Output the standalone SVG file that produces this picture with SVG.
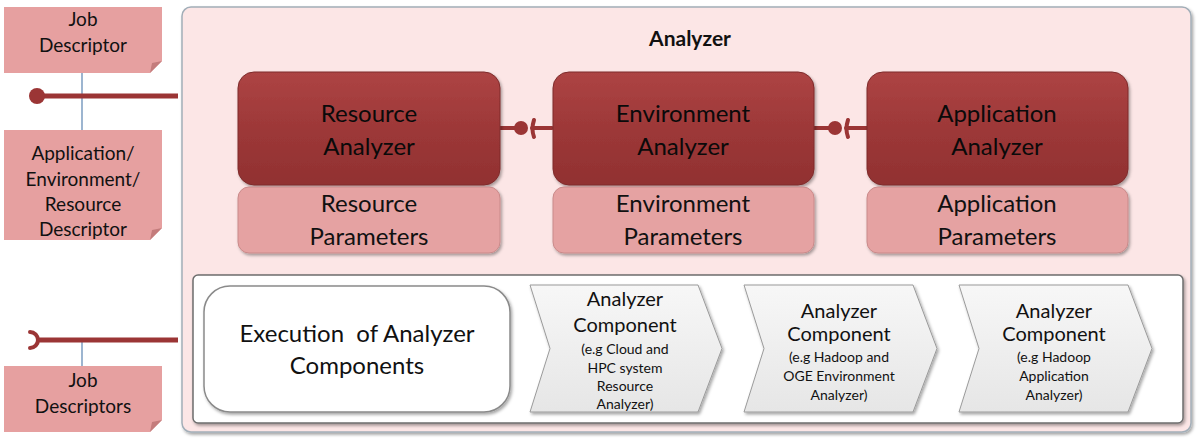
<svg xmlns="http://www.w3.org/2000/svg" width="1200" height="438" viewBox="0 0 1200 438">
<defs>
<linearGradient id="gRed" x1="0" y1="0" x2="0" y2="1">
<stop offset="0" stop-color="#ad4444"/>
<stop offset="0.5" stop-color="#9d3838"/>
<stop offset="1" stop-color="#913131"/>
</linearGradient>
<linearGradient id="gChev" x1="0" y1="0" x2="0" y2="1">
<stop offset="0" stop-color="#f7f7f7"/>
<stop offset="1" stop-color="#e6e6e6"/>
</linearGradient>
<filter id="sh" x="-5%" y="-5%" width="110%" height="115%">
<feDropShadow dx="1.5" dy="2" stdDeviation="1.5" flood-color="#000" flood-opacity="0.35"/>
</filter>
</defs>
<style>
text{font-family:Lato,"Liberation Sans",sans-serif;fill:#111;text-anchor:middle}
.note{fill:#e6a0a0}
.fold{fill:#c47c7c}
.big{font-size:24px}
.dk{fill:#0a0a0a}
.nt{font-size:19px}
.ct{font-size:20px}
.st{font-size:14px}
.red{fill:url(#gRed);stroke:#7e2b2b;stroke-width:1}
.par{fill:#e5a2a2;stroke:#c98a8a;stroke-width:1}
.chev{fill:url(#gChev);stroke:#9a9a9a;stroke-width:1}
.wire{stroke:#9b3535;stroke-width:5;fill:none}
.thin{stroke:#9b3535;stroke-width:4;fill:none;stroke-linecap:round}
.blue{stroke:#5b84b1;stroke-width:1.2}
</style>

<g id="container">
<rect x="182" y="7" width="1009" height="425" rx="9" fill="#fce6e6" stroke="#a2aeb8" stroke-width="1.5" filter="url(#sh)"/>
<text x="690" y="46" style="font-size:21px;font-weight:bold">Analyzer</text>
</g>

<g id="connectors">
<line class="blue" x1="82" y1="73" x2="82" y2="130"/>
<line class="wire" x1="38" y1="96" x2="178" y2="96"/>
<circle cx="37" cy="96" r="8" fill="#9b3535"/>
<line class="blue" x1="82" y1="340" x2="82" y2="366"/>
<line class="wire" x1="38" y1="340" x2="178" y2="340"/>
<path class="thin" d="M30 332 A8 8 0 0 1 30 348"/>
<line class="thin" x1="500" y1="128" x2="515" y2="128"/>
<circle cx="521" cy="128" r="7" fill="#9b3535"/>
<path class="thin" d="M534 120 Q531 129 534 137"/>
<line class="thin" x1="532" y1="128" x2="552" y2="128"/>
<line class="thin" x1="814" y1="128" x2="829" y2="128"/>
<circle cx="835" cy="128" r="7" fill="#9b3535"/>
<path class="thin" d="M848 120 Q845 129 848 137"/>
<line class="thin" x1="846" y1="128" x2="867" y2="128"/>
</g>

<g id="job-descriptor">
<path class="note" d="M4 7 H162 V61 L150 73 H4 Z"/>
<path class="fold" d="M162 61 L150 73 L152 63 Z"/>
<text class="nt" x="83" y="26">Job</text>
<text class="nt" x="83" y="52">Descriptor</text>
</g>

<g id="app-env-res-descriptor">
<path class="note" d="M4 130 H162 V228 L150 240 H4 Z"/>
<path class="fold" d="M162 228 L150 240 L152 230 Z"/>
<text class="nt" x="83" y="160">Application/</text>
<text class="nt" x="83" y="186">Environment/</text>
<text class="nt" x="83" y="211">Resource</text>
<text class="nt" x="83" y="236">Descriptor</text>
</g>

<g id="job-descriptors">
<path class="note" d="M4 366 H162 V420 L150 432 H4 Z"/>
<path class="fold" d="M162 420 L150 432 L152 422 Z"/>
<text class="nt" x="83" y="387">Job</text>
<text class="nt" x="83" y="413">Descriptors</text>
</g>

<g id="resource-analyzer">
<rect class="red" x="238" y="72" width="262" height="113" rx="16" filter="url(#sh)"/>
<text class="big dk" x="369" y="122">Resource</text>
<text class="big dk" x="369" y="155">Analyzer</text>
</g>
<g id="resource-parameters">
<rect class="par" x="238" y="187" width="262" height="66" rx="11" filter="url(#sh)"/>
<text class="big" x="369" y="212">Resource</text>
<text class="big" x="369" y="245">Parameters</text>
</g>

<g id="environment-analyzer">
<rect class="red" x="553" y="72" width="261" height="113" rx="16" filter="url(#sh)"/>
<text class="big dk" x="683" y="122">Environment</text>
<text class="big dk" x="683" y="155">Analyzer</text>
</g>
<g id="environment-parameters">
<rect class="par" x="553" y="187" width="261" height="66" rx="11" filter="url(#sh)"/>
<text class="big" x="683" y="212">Environment</text>
<text class="big" x="683" y="245">Parameters</text>
</g>

<g id="application-analyzer">
<rect class="red" x="867" y="72" width="261" height="113" rx="16" filter="url(#sh)"/>
<text class="big dk" x="997" y="122">Application</text>
<text class="big dk" x="997" y="155">Analyzer</text>
</g>
<g id="application-parameters">
<rect class="par" x="867" y="187" width="261" height="66" rx="11" filter="url(#sh)"/>
<text class="big" x="997" y="212">Application</text>
<text class="big" x="997" y="245">Parameters</text>
</g>

<g id="components-panel">
<rect x="193" y="275" width="990" height="148" rx="5" fill="#fff" stroke="#6e6e6e" stroke-width="1.5" filter="url(#sh)"/>
</g>

<g id="execution">
<rect x="204" y="286" width="306" height="126" rx="26" fill="#fff" stroke="#8a8a8a" stroke-width="1.5" filter="url(#sh)"/>
<text class="big" x="357" y="342" xml:space="preserve">Execution  of Analyzer</text>
<text class="big" x="357" y="374">Components</text>
</g>

<g id="component-resource">
<path class="chev" d="M530 285 L698 285 L722 348.5 L698 412 L530 412 L550 348.5 Z" filter="url(#sh)"/>
<text class="ct" x="625" y="306">Analyzer</text>
<text class="ct" x="625" y="332">Component</text>
<text class="st" x="625" y="354">(e.g Cloud and</text>
<text class="st" x="625" y="373">HPC system</text>
<text class="st" x="625" y="391">Resource</text>
<text class="st" x="625" y="409">Analyzer)</text>
</g>

<g id="component-environment">
<path class="chev" d="M744 285 L913 285 L937 348.5 L913 412 L744 412 L764 348.5 Z" filter="url(#sh)"/>
<text class="ct" x="839" y="318">Analyzer</text>
<text class="ct" x="839" y="341">Component</text>
<text class="st" x="839" y="362">(e.g Hadoop and</text>
<text class="st" x="839" y="381">OGE Environment</text>
<text class="st" x="839" y="400">Analyzer)</text>
</g>

<g id="component-application">
<path class="chev" d="M959 285 L1128 285 L1152 348.5 L1128 412 L959 412 L979 348.5 Z" filter="url(#sh)"/>
<text class="ct" x="1054" y="318">Analyzer</text>
<text class="ct" x="1054" y="341">Component</text>
<text class="st" x="1054" y="362">(e.g Hadoop</text>
<text class="st" x="1054" y="381">Application</text>
<text class="st" x="1054" y="400">Analyzer)</text>
</g>
</svg>
